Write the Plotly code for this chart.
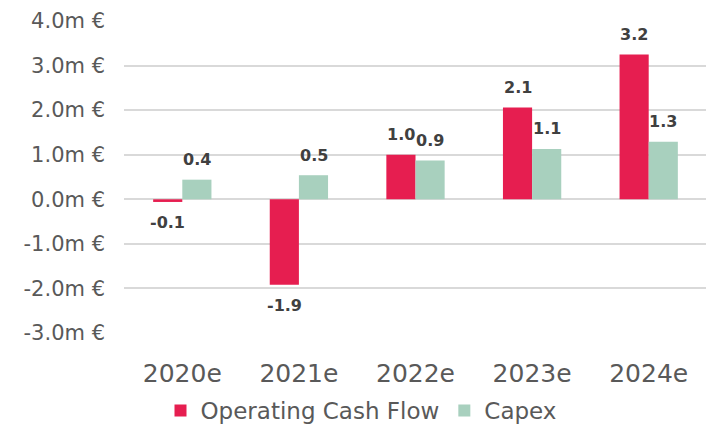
import plotly.graph_objects as go

years = ["2020e", "2021e", "2022e", "2023e", "2024e"]
operating_cash_flow = [-0.06, -1.92, 1.0, 2.06, 3.25]
capex = [0.44, 0.54, 0.87, 1.13, 1.29]

y_ticks = [-3, -2, -1, 0, 1, 2, 3, 4]
y_tick_labels = ["-3.0m €", "-2.0m €", "-1.0m €", "0.0m €", "1.0m €", "2.0m €", "3.0m €", "4.0m €"]

RED = "#E61E50"
GREEN = "#A8D0BE"
FONT = "DejaVu Sans"
GREY = "#595959"

label_font = dict(family=FONT, size=16, color="#404040", weight="bold")

fig = go.Figure()
fig.add_trace(go.Bar(
    x=years, y=operating_cash_flow, name="Operating Cash Flow",
    marker=dict(color=RED, line=dict(width=0)),
))
fig.add_trace(go.Bar(
    x=years, y=capex, name="Capex",
    marker=dict(color=GREEN, line=dict(width=0)),
))

# value labels, nudged off the bar ends like the original
half_bar = 14.6
for series, shift in ((operating_cash_flow, -half_bar), (capex, half_bar)):
    for year, v in zip(years, series):
        fig.add_annotation(
            x=year, y=v, text=f"{v:.1f}", showarrow=False,
            xshift=shift, yshift=20 if v >= 0 else -21,
            font=label_font,
        )

# page body keeps its default 8px margin, so the figure is 8px smaller
fig.update_layout(
    width=706, height=424,
    margin=dict(l=116, r=7, t=13, b=99),
    paper_bgcolor="white", plot_bgcolor="white",
    barmode="group", bargap=0.5, bargroupgap=0,
    font=dict(family=FONT, color=GREY),
    legend=dict(
        orientation="h", xref="container", x=0.5, xanchor="center",
        yref="container", y=-0.02, yanchor="bottom",
        font=dict(size=23, color=GREY), itemwidth=30,
    ),
)
fig.update_xaxes(
    showgrid=False, zeroline=False, showline=False, automargin=False,
    tickfont=dict(size=25, color=GREY), ticklabelstandoff=23,
)
fig.update_yaxes(
    range=[-3, 4], tickvals=y_ticks, ticktext=y_tick_labels, automargin=False,
    showgrid=True, gridcolor="#D9D9D9", gridwidth=1.5,
    zeroline=True, zerolinecolor="#D9D9D9", zerolinewidth=1.5,
    tickfont=dict(size=21, color=GREY), ticklabelstandoff=18,
)

fig.write_html("out.html")
